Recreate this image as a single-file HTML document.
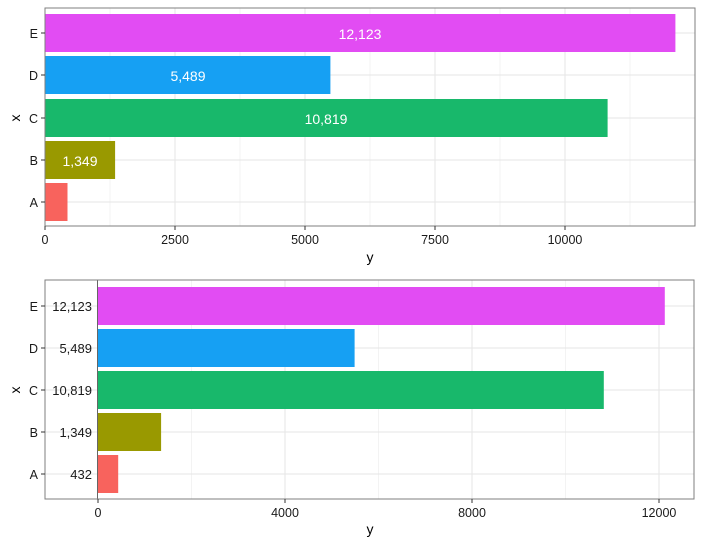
<!DOCTYPE html>
<html><head><style>body{margin:0;background:#fff}svg{display:block}</style></head><body>
<svg width="703" height="545" xmlns="http://www.w3.org/2000/svg" font-family="Liberation Sans, Arial, sans-serif">
<rect width="703" height="545" fill="#fff"/>
<g stroke="#ebebeb" stroke-width="0.6">
<line x1="110" y1="8" x2="110" y2="226"/><line x1="240" y1="8" x2="240" y2="226"/><line x1="370" y1="8" x2="370" y2="226"/><line x1="500" y1="8" x2="500" y2="226"/><line x1="630" y1="8" x2="630" y2="226"/>
</g>
<g stroke="#e5e5e5" stroke-width="1">
<line x1="175" y1="8" x2="175" y2="226"/><line x1="305" y1="8" x2="305" y2="226"/><line x1="435" y1="8" x2="435" y2="226"/><line x1="565" y1="8" x2="565" y2="226"/>
<line x1="45" y1="33" x2="695" y2="33"/><line x1="45" y1="75" x2="695" y2="75"/><line x1="45" y1="118" x2="695" y2="118"/><line x1="45" y1="160" x2="695" y2="160"/><line x1="45" y1="202" x2="695" y2="202"/>
</g>
<rect x="45" y="14" width="630.4" height="38" fill="#E24CF3"/>
<rect x="45" y="56" width="285.4" height="38" fill="#16A0F3"/>
<rect x="45" y="99" width="562.6" height="38" fill="#18B86B"/>
<rect x="45" y="141" width="70.1" height="38" fill="#999900"/>
<rect x="45" y="183" width="22.5" height="38" fill="#F8635D"/>
<g fill="#fff" font-size="14" text-anchor="middle">
<text x="360" y="39">12,123</text><text x="188" y="81">5,489</text><text x="326" y="124">10,819</text><text x="80" y="166">1,349</text>
</g>
<rect x="45" y="8" width="650" height="218" fill="none" stroke="#7f7f7f" stroke-width="1"/>
<g stroke="#333" stroke-width="1">
<line x1="41" y1="33" x2="45" y2="33"/><line x1="41" y1="75" x2="45" y2="75"/><line x1="41" y1="118" x2="45" y2="118"/><line x1="41" y1="160" x2="45" y2="160"/><line x1="41" y1="202" x2="45" y2="202"/>
<line x1="45" y1="226" x2="45" y2="230"/><line x1="175" y1="226" x2="175" y2="230"/><line x1="305" y1="226" x2="305" y2="230"/><line x1="435" y1="226" x2="435" y2="230"/><line x1="565" y1="226" x2="565" y2="230"/>
</g>
<g font-size="12.5" fill="#1a1a1a" text-anchor="end">
<text x="38" y="38">E</text><text x="38" y="80">D</text><text x="38" y="123">C</text><text x="38" y="165">B</text><text x="38" y="207">A</text>
</g>
<g font-size="12.5" fill="#1a1a1a" text-anchor="middle">
<text x="45" y="244">0</text><text x="175" y="244">2500</text><text x="305" y="244">5000</text><text x="435" y="244">7500</text><text x="565" y="244">10000</text>
</g>
<text x="370" y="262" font-size="14" text-anchor="middle">y</text>
<text x="15" y="118" font-size="14" text-anchor="middle" transform="rotate(-90 15 118)" dy="5">x</text>
<g stroke="#ebebeb" stroke-width="0.6">
<line x1="191.5" y1="280" x2="191.5" y2="499"/><line x1="378.5" y1="280" x2="378.5" y2="499"/><line x1="565.5" y1="280" x2="565.5" y2="499"/>
</g>
<g stroke="#e5e5e5" stroke-width="1">
<line x1="285" y1="280" x2="285" y2="499"/><line x1="472" y1="280" x2="472" y2="499"/><line x1="659" y1="280" x2="659" y2="499"/>
<line x1="45" y1="306" x2="694" y2="306"/><line x1="45" y1="348" x2="694" y2="348"/><line x1="45" y1="390" x2="694" y2="390"/><line x1="45" y1="432" x2="694" y2="432"/><line x1="45" y1="474" x2="694" y2="474"/>
</g>
<rect x="98" y="287" width="566.8" height="38" fill="#E24CF3"/>
<rect x="98" y="329" width="256.6" height="38" fill="#16A0F3"/>
<rect x="98" y="371" width="505.8" height="38" fill="#18B86B"/>
<rect x="98" y="413" width="63.1" height="38" fill="#999900"/>
<rect x="98" y="455" width="20.2" height="38" fill="#F8635D"/>
<g fill="#1a1a1a" font-size="13" text-anchor="end">
<text x="92" y="311">12,123</text><text x="92" y="353">5,489</text><text x="92" y="395">10,819</text><text x="92" y="437">1,349</text><text x="92" y="479">432</text>
</g>
<line x1="97.5" y1="280" x2="97.5" y2="499" stroke="#666" stroke-width="1"/>
<rect x="45" y="280" width="649" height="219" fill="none" stroke="#7f7f7f" stroke-width="1"/>
<g stroke="#333" stroke-width="1">
<line x1="41" y1="306" x2="45" y2="306"/><line x1="41" y1="348" x2="45" y2="348"/><line x1="41" y1="390" x2="45" y2="390"/><line x1="41" y1="432" x2="45" y2="432"/><line x1="41" y1="474" x2="45" y2="474"/>
<line x1="98" y1="499" x2="98" y2="503"/><line x1="285" y1="499" x2="285" y2="503"/><line x1="472" y1="499" x2="472" y2="503"/><line x1="659" y1="499" x2="659" y2="503"/>
</g>
<g font-size="12.5" fill="#1a1a1a" text-anchor="end">
<text x="38" y="311">E</text><text x="38" y="353">D</text><text x="38" y="395">C</text><text x="38" y="437">B</text><text x="38" y="479">A</text>
</g>
<g font-size="12.5" fill="#1a1a1a" text-anchor="middle">
<text x="98" y="517">0</text><text x="285" y="517">4000</text><text x="472" y="517">8000</text><text x="659" y="517">12000</text>
</g>
<text x="370" y="534" font-size="14" text-anchor="middle">y</text>
<text x="15" y="390" font-size="14" text-anchor="middle" transform="rotate(-90 15 390)" dy="5">x</text>
</svg>
</body></html>
